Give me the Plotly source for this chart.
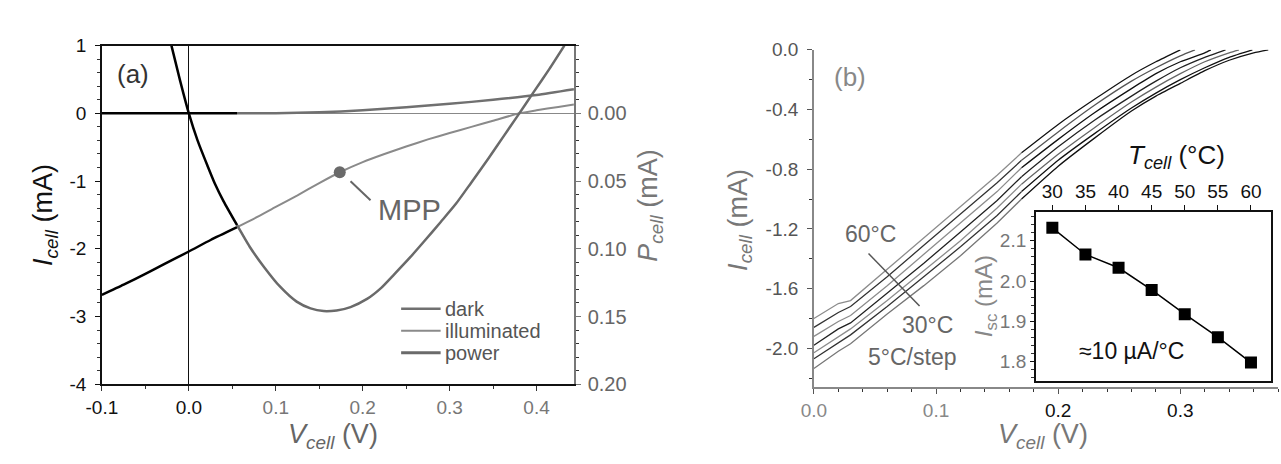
import plotly.graph_objects as go

W, H = 1281, 464
FONT = "Liberation Sans, Arial, sans-serif"

def px(x):
    return x / W

def py(y):
    return 1 - y / H

# ---------------- panel (a) data ----------------
dark_v = [-0.1, -0.05, 0.0, 0.0555, 0.1, 0.15, 0.2, 0.25, 0.3, 0.35, 0.4, 0.443]
dark_i = [0.0, 0.0, 0.0, 0.0, 0.002, 0.015, 0.045, 0.09, 0.14, 0.2, 0.27, 0.355]

illum_v = [-0.1, -0.075, -0.05, -0.029, 0.0, 0.025, 0.0555, 0.08, 0.1, 0.125, 0.15, 0.1736,
           0.2, 0.225, 0.25, 0.275, 0.3, 0.325, 0.35, 0.38, 0.4, 0.425, 0.443]
illum_i = [-2.68, -2.53, -2.37, -2.23, -2.04, -1.87, -1.68, -1.52, -1.38, -1.21, -1.03, -0.87,
           -0.72, -0.6, -0.49, -0.385, -0.29, -0.2, -0.11, 0.0, 0.045, 0.095, 0.13]

power_v = [-0.02, -0.01, 0.0, 0.01, 0.021, 0.03, 0.04, 0.0555, 0.07, 0.086, 0.105, 0.124, 0.14,
           0.155, 0.17, 0.186, 0.205, 0.221, 0.236, 0.255, 0.27, 0.29, 0.307, 0.325, 0.345,
           0.362, 0.377, 0.397, 0.415, 0.432]
power_p = [-0.05, -0.024, 0.0, 0.02, 0.038, 0.052, 0.065, 0.0826, 0.0985, 0.113, 0.128, 0.139,
           0.144, 0.146, 0.1455, 0.143, 0.137, 0.129, 0.119, 0.106, 0.095, 0.080, 0.067, 0.051,
           0.033, 0.017, 0.003, -0.016, -0.033, -0.05]

mpp_v = [0.1736]
mpp_i = [-0.87]

split_v = 0.0555  # colour change of the curves in panel (a)

# ---------------- panel (b) data ----------------
temps = [60, 55, 50, 45, 40, 35, 30]
vgrid = [0.0, 0.02, 0.03, 0.06, 0.09, 0.12, 0.15, 0.17, 0.20, 0.23, 0.26, 0.28, 0.30, 0.32, 0.34, 0.36]
i_60 = [-1.80, -1.70, -1.68, -1.47, -1.26, -1.05, -0.84, -0.69, -0.50, -0.33, -0.17, -0.08]
i_55 = [-1.86, -1.76, -1.72, -1.52, -1.31, -1.10, -0.89, -0.74, -0.55, -0.37, -0.21, -0.12, -0.04]
i_50 = [-1.92, -1.82, -1.78, -1.58, -1.37, -1.16, -0.95, -0.79, -0.60, -0.42, -0.26, -0.16, -0.08, -0.02]
i_45 = [-1.98, -1.87, -1.83, -1.63, -1.43, -1.22, -1.01, -0.85, -0.65, -0.47, -0.31, -0.21, -0.12, -0.05]
i_40 = [-2.03, -1.92, -1.87, -1.68, -1.48, -1.28, -1.06, -0.90, -0.70, -0.52, -0.35, -0.25, -0.16, -0.08, -0.02]
i_35 = [-2.07, -1.96, -1.91, -1.72, -1.52, -1.32, -1.11, -0.95, -0.74, -0.56, -0.39, -0.29, -0.20, -0.12, -0.05]
i_30 = [-2.135, -2.02, -1.97, -1.77, -1.58, -1.38, -1.16, -1.00, -0.78, -0.59, -0.41, -0.31, -0.225, -0.14, -0.07, -0.02]
voc = [0.300, 0.312, 0.325, 0.337, 0.348, 0.359, 0.372]

# inset
inset_t = [30, 35, 40, 45, 50, 55, 60]
inset_isc = [2.132, 2.066, 2.033, 1.978, 1.918, 1.861, 1.798]

fig = go.Figure()

def part(v, y, lo, hi):
    pv, py_ = [], []
    for a, b in zip(v, y):
        if lo <= a <= hi:
            pv.append(a)
            py_.append(b)
    return pv, py_

# ---- panel (a) traces (gray parts first, black parts on top)
GRAY_D = "#707070"
GRAY_I = "#8a8a8a"
GRAY_P = "#6a6a6a"
for v, y, c, w, ya in [(dark_v, dark_i, GRAY_D, 2.5, "y"),
                       (illum_v, illum_i, GRAY_I, 2.0, "y"),
                       (power_v, power_p, GRAY_P, 2.5, "y2")]:
    gv, gy = part(v, y, split_v, 1.0)
    fig.add_trace(go.Scatter(x=gv, y=gy, mode="lines", xaxis="x", yaxis=ya,
                             line=dict(color=c, width=w, shape="spline", smoothing=0.6),
                             showlegend=False))
for v, y, ya in [(dark_v, dark_i, "y"), (illum_v, illum_i, "y"), (power_v, power_p, "y2")]:
    bv, by = part(v, y, -1.0, split_v)
    fig.add_trace(go.Scatter(x=bv, y=by, mode="lines", xaxis="x", yaxis=ya,
                             line=dict(color="#000", width=2.5, shape="spline", smoothing=0.6),
                             showlegend=False))
fig.add_trace(go.Scatter(x=mpp_v, y=mpp_i, mode="markers", xaxis="x", yaxis="y",
                         marker=dict(color="#6a6a6a", size=12), showlegend=False))

# ---- panel (b) traces
curves = [i_60, i_55, i_50, i_45, i_40, i_35, i_30]
low_cols = ["#8c8c8c", "#333", "#8c8c8c", "#222", "#8c8c8c", "#333", "#777"]
up_cols = ["#111", "#555", "#111", "#222", "#666", "#111", "#111"]
for k, (ci, vz) in enumerate(zip(curves, voc)):
    v = vgrid[:len(ci)] + [vz]
    y = ci + [0.0]
    lv, ly = part(v, y, 0.0, 0.17)
    uv, uy = part(v, y, 0.17, 1.0)
    fig.add_trace(go.Scatter(x=lv, y=ly, mode="lines", xaxis="x2", yaxis="y3",
                             line=dict(color=low_cols[k], width=1.3), showlegend=False))
    fig.add_trace(go.Scatter(x=uv, y=uy, mode="lines", xaxis="x2", yaxis="y3",
                             line=dict(color=up_cols[k], width=1.3, shape="spline", smoothing=0.5),
                             showlegend=False))

# inset
fig.add_trace(go.Scatter(x=inset_t, y=inset_isc, mode="lines+markers", xaxis="x4", yaxis="y5",
                         line=dict(color="#000", width=1.5),
                         marker=dict(symbol="square", size=12, color="#000"), showlegend=False))

tf = dict(family=FONT, size=19)

def minor(d, t0=0):
    return dict(tickmode="linear", tick0=t0, dtick=d, ticks="outside", ticklen=3, tickcolor="#333")

def col(s, c):
    return "<span style='color:%s'>%s</span>" % (c, s)

fig.update_layout(
    width=W, height=H, margin=dict(l=0, r=0, t=0, b=0),
    paper_bgcolor="white", plot_bgcolor="white",
    font=dict(family=FONT),
    xaxis=dict(domain=[px(87), px(565)], range=[-0.1, 0.443], anchor="y",
               tickmode="array", tickvals=[-0.1, 0, 0.1, 0.2, 0.3, 0.4],
               ticktext=[col("-0.1", "#111"), col("0.0", "#111"), col("0.1", "#777"),
                         col("0.2", "#777"), col("0.3", "#777"), col("0.4", "#777")],
               ticks="outside", ticklen=5, tickcolor="#333", minor=minor(0.05),
               showline=True, linecolor="#111", linewidth=1.5, mirror=True,
               zeroline=True, zerolinecolor="#111", zerolinewidth=1,
               showgrid=False, tickfont=dict(tf, color="#555")),
    yaxis=dict(domain=[py(392), py(37.3)], range=[-4, 1], anchor="x",
               tickmode="array", tickvals=[-4, -3, -2, -1, 0, 1],
               ticktext=["-4", "-3", "-2", "-1", "0", "1"],
               ticks="outside", ticklen=5, tickcolor="#111", minor=minor(0.2),
               ticklabelstandoff=5,
               showline=True, linecolor="#111", linewidth=1.5,
               zeroline=True, zerolinecolor="#888", zerolinewidth=1,
               showgrid=False, tickfont=dict(tf, color="#111")),
    yaxis2=dict(overlaying="y", side="right", anchor="x", range=[0.2, -0.05],
                tickmode="array", tickvals=[0, 0.05, 0.1, 0.15, 0.2],
                ticktext=["0.00", "0.05", "0.10", "0.15", "0.20"],
                ticks="outside", ticklen=5, tickcolor="#777", minor=minor(0.01),
                ticklabelstandoff=3,
                showline=True, linecolor="#777", linewidth=1.5,
                zeroline=False, showgrid=False, tickfont=dict(family=FONT, size=20, color="#666")),
    xaxis2=dict(domain=[px(808), px(1278)], range=[0, 0.38], anchor="y3",
                tickmode="array", tickvals=[0, 0.1, 0.2, 0.3],
                ticktext=[col("0.0", "#888"), col("0.1", "#888"), col("0.2", "#111"), col("0.3", "#111")],
                ticks="outside", ticklen=5, tickcolor="#555", minor=minor(0.02),
                showline=True, linecolor="#888", linewidth=1.5,
                zeroline=False, showgrid=False, tickfont=dict(tf, color="#444")),
    xaxis3=dict(overlaying="x2", side="top", anchor="y3", range=[0, 0.38],
                tickmode="array", tickvals=[0, 0.1, 0.2, 0.3], ticktext=["0.0", "0.1", "0.2", "0.3"],
                ticks="outside", ticklen=5, tickcolor="#111", minor=minor(0.02),
                showline=True, linecolor="#111", linewidth=1.5,
                zeroline=False, showgrid=False, tickfont=dict(tf, color="#111")),
    yaxis3=dict(domain=[py(395), py(41.7)], range=[-2.26, 0], anchor="x2",
                tickmode="array", tickvals=[-2.0, -1.6, -1.2, -0.8, -0.4, 0.0],
                ticktext=["-2.0", "-1.6", "-1.2", "-0.8", "-0.4", "0.0"],
                ticks="outside", ticklen=5, tickcolor="#555", minor=minor(0.2),
                ticklabelstandoff=5,
                showline=True, linecolor="#888", linewidth=1.5,
                zeroline=False, showgrid=False, tickfont=dict(tf, color="#555")),
    yaxis4=dict(overlaying="y3", side="right", anchor="x2", range=[-2.26, 0],
                showticklabels=False, ticks="", showline=True, linecolor="#111", linewidth=1.5,
                zeroline=False, showgrid=False),
    xaxis4=dict(domain=[px(1032.7), px(1270.7)], range=[27.5, 63], anchor="y5", side="top",
                tickmode="array", tickvals=inset_t, ticks="outside", ticklen=5, tickcolor="#111",
                showline=True, linecolor="#111", linewidth=1.5, mirror=True,
                zeroline=False, showgrid=False, tickfont=dict(tf, color="#111")),
    yaxis5=dict(domain=[py(388.3), py(211.7)], range=[1.753, 2.171], anchor="x4",
                tickmode="array", tickvals=[1.8, 1.9, 2.0, 2.1], ticktext=["1.8", "1.9", "2.0", "2.1"],
                ticks="outside", ticklen=4, tickcolor="#111", minor=minor(0.02, 1.8),
                showline=True, linecolor="#111", linewidth=1.5, mirror=True,
                zeroline=False, showgrid=False, tickfont=dict(tf, color="#777")),
)

ann = []
def text(x, y, s, size, color, angle=0, xanchor="center"):
    ann.append(dict(x=px(x), y=py(y), xref="paper", yref="paper", text=s, showarrow=False,
                    textangle=angle, xanchor=xanchor, yanchor="middle",
                    font=dict(family=FONT, size=size, color=color)))

I_T = "<i>I</i><sub><i>cell</i></sub> (mA)"
text(30, 215, I_T, 27, "#111", -90)
text(321, 446, "<i>V</i><sub><i>cell</i></sub> (V)", 27, "#666")
text(642, 205, "<i>P</i><sub><i>cell</i></sub> (mA)", 27, "#777", -90)
text(118, 67, "(a)", 26, "#333")
text(733, 220, I_T, 27, "#777", -90)
text(1040, 446, "<i>V</i><sub><i>cell</i></sub> (V)", 27, "#777")
text(845, 70, "(b)", 26, "#888")
text(865, 235, "60°C", 23, "#666")
text(923, 330, "30°C", 23, "#666")
text(907, 363, "5°C/step", 23, "#666")
text(982, 300, "<i>I</i><sub>sc</sub> (mA)", 24, "#888", -90)
text(1175, 153, "<i>T</i><sub><i>cell</i></sub> (°C)", 26, "#111")
text(1130, 357, "≈10 µA/°C", 23, "#111")
# MPP label
ann.append(dict(x=0.254, y=-1.42, xref="x", yref="y", text="MPP", showarrow=False,
                font=dict(family=FONT, size=29, color="#666")))
# legend texts
LEG_Y = [313, 336, 359]
for yy, s in zip(LEG_Y, ["dark", "illuminated", "power"]):
    text(432, yy, s, 20, "#555", xanchor="left")
fig.update_layout(annotations=ann)

shapes = [
    dict(type="line", xref="x", yref="y", x0=0.186, y0=-1.003, x1=0.209, y1=-1.283,
         line=dict(color="#666", width=2)),
    dict(type="line", xref="x2", yref="y3", x0=0.0447, y0=-1.365, x1=0.0865, y1=-1.717,
         line=dict(color="#555", width=1.5)),
]
for yy, c, w in zip(LEG_Y, [GRAY_D, GRAY_I, GRAY_P], [2.5, 2.0, 3]):
    shapes.append(dict(type="line", xref="paper", yref="paper", x0=px(390), x1=px(430),
                       y0=py(yy), y1=py(yy), line=dict(color=c, width=w)))
fig.update_layout(shapes=shapes)

fig.write_html("out.html")
